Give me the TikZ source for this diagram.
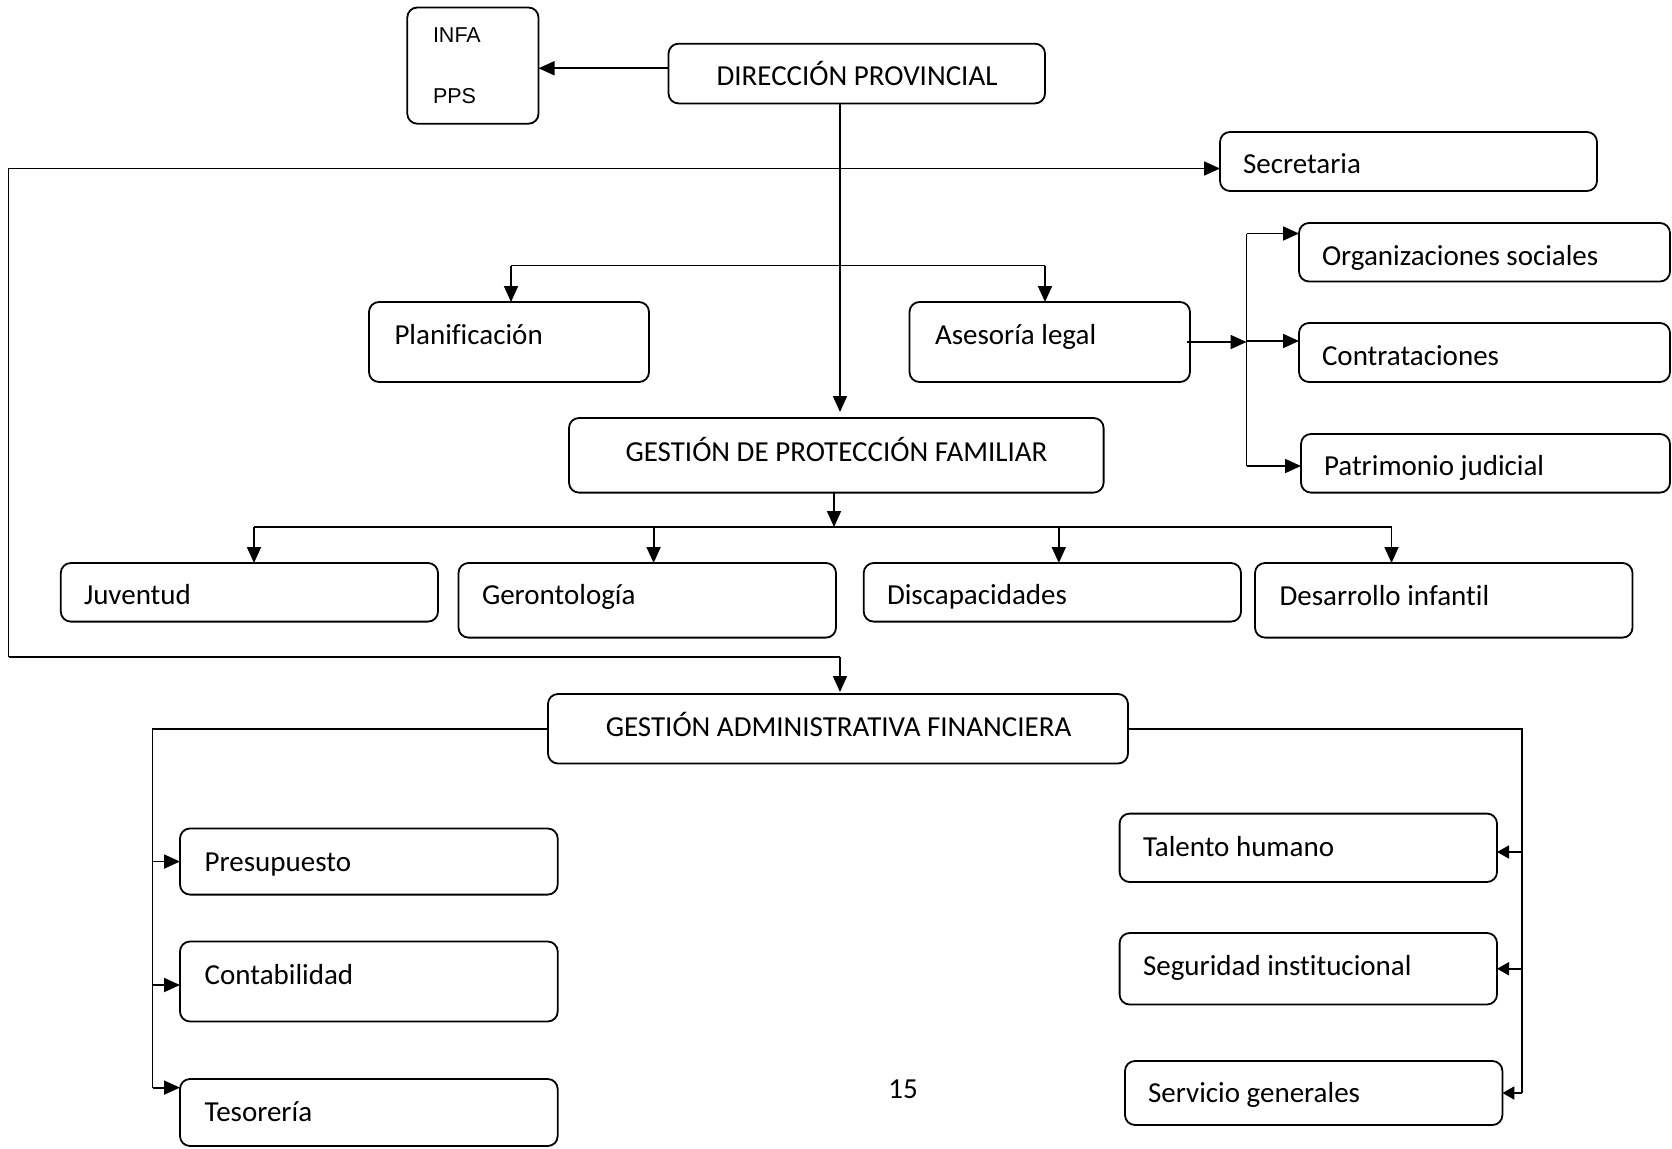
\documentclass[tikz,border=0pt]{standalone}
\usepackage{fontspec}
\setmainfont[Ligatures={NoCommon}]{Carlito}
\newfontfamily\arialf{Liberation Sans}
\usetikzlibrary{arrows.meta}
\begin{document}
\begin{tikzpicture}[x=1pt,y=-1pt,
  box/.style={draw, line width=1.8pt, rounded corners=10pt, inner sep=0pt, outer sep=0pt},
  txt/.style={inner sep=0pt, outer sep=0pt, anchor=base west, font=\fontsize{29}{34}\selectfont},
  ctxt/.style={inner sep=0pt, outer sep=0pt, anchor=base, font=\fontsize{29}{34}\selectfont},
  atxt/.style={inner sep=0pt, outer sep=0pt, anchor=base west, font=\arialf\fontsize{21.5}{26}\selectfont},
  con/.style={line width=1.8pt},
  arr/.style={line width=1.8pt, -{Triangle[length=16pt,width=14pt]}},
  sarr/.style={line width=1.8pt, -{Triangle[length=12pt,width=13pt]}}]
\useasboundingbox (0,0) rectangle (1672,1148);

% boxes
\node[box, minimum width=131.2pt, minimum height=116.2pt] (infa) at (472.9,65.6) {};
\node[box, minimum width=376.5pt, minimum height=59.7pt] (dir) at (856.75,73.55) {};
\node[box, minimum width=377pt, minimum height=59pt] (sec) at (1408.5,161.5) {};
\node[box, minimum width=280pt, minimum height=80pt] (plan) at (509,342) {};
\node[box, minimum width=280.5pt, minimum height=80pt] (ases) at (1049.75,342) {};
\node[box, minimum width=371pt, minimum height=58.5pt] (org) at (1484.5,252.25) {};
\node[box, minimum width=371pt, minimum height=59pt] (contr) at (1484.5,352.5) {};
\node[box, minimum width=369pt, minimum height=58.6pt] (patr) at (1485.5,463.3) {};
\node[box, minimum width=534.6pt, minimum height=74.6pt] (gpf) at (836.3,455.3) {};
\node[box, minimum width=377.2pt, minimum height=58.6pt] (juv) at (249.4,592.3) {};
\node[box, minimum width=377.5pt, minimum height=74.6pt] (ger) at (647.25,600.3) {};
\node[box, minimum width=377.3pt, minimum height=58.6pt] (disc) at (1052.35,592.3) {};
\node[box, minimum width=377.5pt, minimum height=74.6pt] (des) at (1443.75,600.3) {};
\node[box, minimum width=580pt, minimum height=69.5pt] (gaf) at (838,728.75) {};
\node[box, minimum width=377.7pt, minimum height=66.1pt] (pres) at (368.85,861.55) {};
\node[box, minimum width=377.7pt, minimum height=80pt] (cont) at (368.85,981.5) {};
\node[box, minimum width=377.7pt, minimum height=67pt] (tes) at (368.85,1112.5) {};
\node[box, minimum width=377.4pt, minimum height=68.4pt] (tal) at (1308.3,847.8) {};
\node[box, minimum width=377.4pt, minimum height=71.5pt] (seg) at (1308.3,968.75) {};
\node[box, minimum width=377.4pt, minimum height=64pt] (serv) at (1313.7,1093) {};

% texts
\node[atxt] (tinfa) at (433,42.7) {INFA};
\node[atxt] (tpps) at (433,103.7) {PPS};
\node[ctxt] (tdir) at (857,85.2) {DIRECCIÓN PROVINCIAL};
\node[txt] (tsec) at (1243,173.5) {Secretaria};
\node[txt] (tplan) at (394.5,344.5) {Planificación};
\node[txt] (tases) at (935,344.5) {Asesoría legal};
\node[txt] (torg) at (1322,265.5) {Organizaciones sociales};
\node[txt] (tcontr) at (1322,365.5) {Contrataciones};
\node[txt] (tpatr) at (1324,475.5) {Patrimonio judicial};
\node[ctxt] (tgpf) at (836.5,461.5) {GESTIÓN DE PROTECCIÓN FAMILIAR};
\node[txt] (tjuv) at (84,604.5) {Juventud};
\node[txt] (tger) at (482,604.5) {Gerontología};
\node[txt] (tdisc) at (887,604.5) {Discapacidades};
\node[txt] (tdes) at (1279.6,605.5) {Desarrollo infantil};
\node[ctxt] (tgaf) at (838.6,736.5) {GESTIÓN ADMINISTRATIVA FINANCIERA};
\node[txt] (tpres) at (204.7,871) {Presupuesto};
\node[txt] (tcont) at (204.7,984) {Contabilidad};
\node[txt] (ttes) at (204.7,1121.5) {Tesorería};
\node[txt] (ttal) at (1143,856) {Talento humano};
\node[txt] (tseg) at (1143,975.5) {Seguridad institucional};
\node[txt] (tserv) at (1148,1102.5) {Servicio generales};
\node[ctxt] (tpage) at (903,1098) {15};

% coordinates
\coordinate (lt) at (8.5,168.5);
\coordinate (lb) at (8.5,657);
\coordinate (gafin) at (840,657);
\coordinate (bus1) at (0,265.5);
\coordinate (bus2) at (0,527);
\coordinate (vb) at (1246.5,0);
\coordinate (lx) at (152.5,0);
\coordinate (rx) at (1521.6,0);

% connectors
\draw[arr] ([yshift=5.3pt]dir.west) -- ([yshift=5.3pt]dir.west -| infa.east);
\draw[arr, shorten >=6pt] ([xshift=-16.75pt]dir.south) -- ([xshift=-16.75pt]dir.south |- gpf.north);
\draw[arr] (lb) -- (lt) -- ([yshift=-7pt]sec.west);
\draw[con] (lb) -- (gafin);
\draw[arr, shorten >=2pt] (gafin) -- (gafin |- gaf.north);

\draw[con] ([xshift=2pt]bus1 -| plan.north) -- ([xshift=-4.75pt]bus1 -| ases.north);
\draw[arr] ([xshift=2pt]bus1 -| plan.north) -- ([xshift=2pt]plan.north);
\draw[arr] ([xshift=-4.75pt]bus1 -| ases.north) -- ([xshift=-4.75pt]ases.north);

\draw[arr] ([xshift=-3pt]ases.east) -- (ases.east -| vb);
\draw[con] ([yshift=18.75pt]org.west -| vb) -- ([yshift=-2.7pt]patr.west -| vb);
\draw[arr] ([yshift=18.75pt]org.west -| vb) -- ([yshift=18.75pt]org.west);
\draw[arr] ([yshift=11.5pt]contr.west -| vb) -- ([yshift=11.5pt]contr.west);
\draw[arr] ([yshift=-2.7pt]patr.west -| vb) -- ([yshift=-2.7pt]patr.west);

\draw[arr] ([xshift=-2.3pt]gpf.south) -- ([xshift=-2.3pt]gpf.south |- bus2);
\draw[con] ([xshift=4.6pt]bus2 -| juv.north) -- ([xshift=-52.25pt]bus2 -| des.north);
\draw[arr] ([xshift=4.6pt]bus2 -| juv.north) -- ([xshift=4.6pt]juv.north);
\draw[arr] ([xshift=6.35pt]bus2 -| ger.north) -- ([xshift=6.35pt]ger.north);
\draw[arr] ([xshift=6.45pt]bus2 -| disc.north) -- ([xshift=6.45pt]disc.north);
\draw[arr] ([xshift=-52.25pt]bus2 -| des.north) -- ([xshift=-52.25pt]des.north);

\draw[con] (gaf.west) -- (gaf.west -| lx) -- ([yshift=24.9pt]tes.west -| lx);
\draw[arr] (pres.west -| lx) -- (pres.west);
\draw[arr] ([yshift=-3.5pt]cont.west -| lx) -- ([yshift=-3.5pt]cont.west);
\draw[arr] ([yshift=24.9pt]tes.west -| lx) -- ([yshift=24.9pt]tes.west);

\draw[con] (gaf.east) -- (gaf.east -| rx) -- (serv.east -| rx);
\draw[sarr] ([yshift=-4.2pt]tal.east -| rx) -- ([yshift=-4.2pt]tal.east);
\draw[sarr] (seg.east -| rx) -- (seg.east);
\draw[sarr] (serv.east -| rx) -- (serv.east);
\end{tikzpicture}
\end{document}
